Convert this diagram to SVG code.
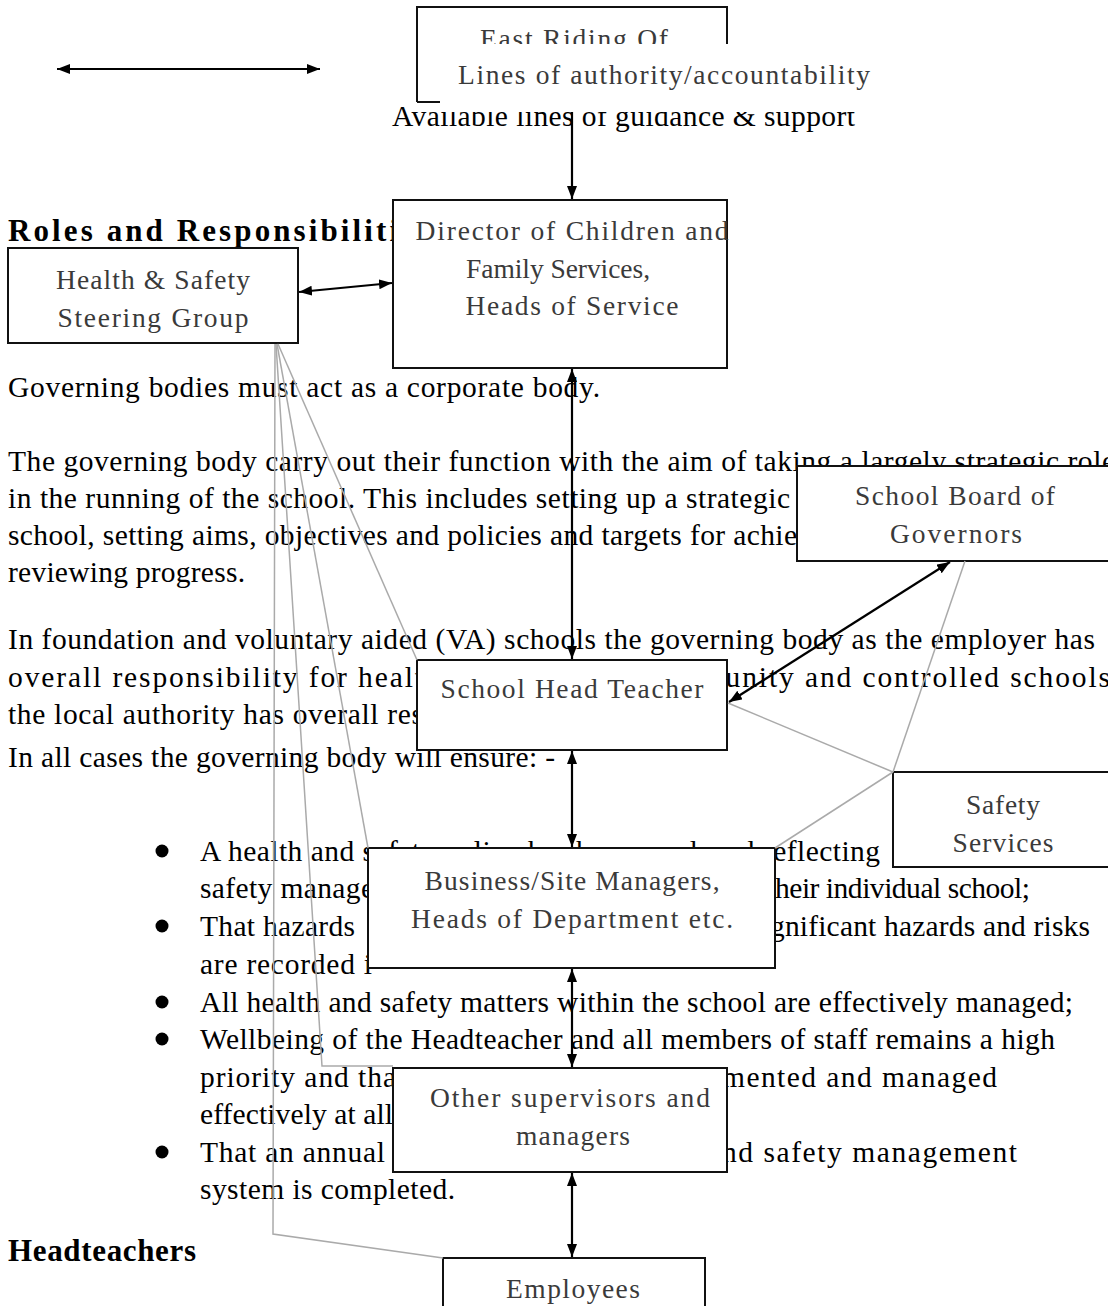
<svg xmlns="http://www.w3.org/2000/svg" width="1108" height="1306" viewBox="0 0 1108 1306">
<defs>
<marker id="ah" markerWidth="14" markerHeight="12" refX="13" refY="5" orient="auto-start-reverse" markerUnits="userSpaceOnUse">
<path d="M0,0 L13,5 L0,10 z" fill="#000"/>
</marker>
<style>
.t{font-family:"Liberation Serif","Times New Roman",serif;font-size:29.5px;fill:#000}
.b{font-family:"Liberation Serif","Times New Roman",serif;font-size:31px;font-weight:bold;fill:#000}
.n{font-family:"Liberation Serif","Times New Roman",serif;font-size:27.5px;fill:#3a3a3a;text-anchor:middle}
.box{fill:#fff;stroke:#111;stroke-width:2}
.ar{stroke:#000;stroke-width:2.2;fill:none;marker-start:url(#ah);marker-end:url(#ah)}
.ar1{stroke:#000;stroke-width:2.2;fill:none;marker-end:url(#ah)}
.g{stroke:#aaa;stroke-width:1.5;fill:none}
</style>
</defs>
<rect width="1108" height="1306" fill="#fff"/>

<g id="body-text">
<text class="t" x="392" y="126" textLength="463">Available lines of guidance &amp; support</text>
<text class="b" x="8" y="241" textLength="390" font-size="33">Roles and Responsibiliti</text>
<text class="t" x="8" y="397" textLength="592">Governing bodies must act as a corporate body.</text>
<text class="t" x="8" y="471" textLength="1107">The governing body carry out their function with the aim of taking a largely strategic role</text>
<text class="t" x="8" y="508" textLength="782">in the running of the school. This includes setting up a strategic</text>
<text class="t" x="8" y="545" textLength="789">school, setting aims, objectives and policies and targets for achie</text>
<text class="t" x="8" y="582" textLength="237">reviewing progress.</text>
<text class="t" x="8" y="649" textLength="1087">In foundation and voluntary aided (VA) schools the governing body as the employer has</text>
<text class="t" x="8" y="687" textLength="1102">overall responsibility for health and safety. In community and controlled schools</text>
<text class="t" x="8" y="724" textLength="415">the local authority has overall res</text>
<text class="t" x="8" y="767" textLength="547">In all cases the governing body will ensure: -</text>
<g fill="#000">
<circle cx="162" cy="851" r="6.5"/>
<circle cx="162" cy="926" r="6.5"/>
<circle cx="162" cy="1002" r="6.5"/>
<circle cx="162" cy="1039" r="6.5"/>
<circle cx="162" cy="1152" r="6.5"/>
</g>
<text class="t" x="200" y="861" textLength="680">A health and safety policy has been produced reflecting</text>
<text class="t" x="200" y="898" textLength="174">safety manage</text>
<text class="t" x="775" y="898" textLength="255">heir individual school;</text>
<text class="t" x="200" y="936" textLength="155">That hazards</text>
<text class="t" x="770" y="936" textLength="320">gnificant hazards and risks</text>
<text class="t" x="200" y="974" textLength="172">are recorded i</text>
<text class="t" x="200" y="1012" textLength="873">All health and safety matters within the school are effectively managed;</text>
<text class="t" x="200" y="1049" textLength="855">Wellbeing of the Headteacher and all members of staff remains a high</text>
<text class="t" x="200" y="1087" textLength="196">priority and tha</text>
<text class="t" x="722" y="1087" textLength="275">mented and managed</text>
<text class="t" x="200" y="1124" textLength="193">effectively at all</text>
<text class="t" x="200" y="1162" textLength="185">That an annual</text>
<text class="t" x="722" y="1162" textLength="295">nd safety management</text>
<text class="t" x="200" y="1199" textLength="255">system is completed.</text>
<text class="b" x="8" y="1261" textLength="188">Headteachers</text>
</g>

<g id="legend">
<line class="ar" x1="57" y1="69" x2="320" y2="69"/>
</g>

<g id="node-east-riding">
<path d="M417,102 L417,7 L727,7 L727,60" fill="none" stroke="#111" stroke-width="2"/>
<line x1="417" y1="102" x2="440" y2="102" stroke="#111" stroke-width="2"/>
<text class="n" x="574" y="48" textLength="188">East Riding Of</text>
<rect x="440" y="44" width="440" height="68" fill="#fff"/>
<text class="n" x="664" y="84" textLength="412">Lines of authority/accountability</text>
</g>

<g id="node-hs-steering">
<rect class="box" x="8" y="248" width="290" height="95"/>
<text class="n" x="153" y="289" textLength="194">Health &amp; Safety</text>
<text class="n" x="153" y="327" textLength="191">Steering Group</text>
</g>

<g id="node-director">
<rect class="box" x="393" y="200" width="334" height="168"/>
<text class="n" x="572" y="240" textLength="313">Director of Children and</text>
<text class="n" x="558" y="278" textLength="184">Family Services,</text>
<text class="n" x="572" y="315" textLength="213">Heads of Service</text>
</g>

<g id="node-board">
<rect class="box" x="797" y="466" width="320" height="95"/>
<text class="n" x="955" y="505" textLength="200">School Board of</text>
<text class="n" x="956" y="543" textLength="132">Governors</text>
</g>

<g id="node-head">
<rect class="box" x="417" y="660" width="310" height="90"/>
<text class="n" x="572" y="698" textLength="263">School Head Teacher</text>
</g>

<g id="node-safety">
<rect class="box" x="893" y="772" width="224" height="95"/>
<text class="n" x="1003" y="814" textLength="74">Safety</text>
<text class="n" x="1003" y="852" textLength="101">Services</text>
</g>

<g id="node-business">
<rect class="box" x="368" y="848" width="407" height="120"/>
<text class="n" x="572" y="890" textLength="295">Business/Site Managers,</text>
<text class="n" x="572" y="928" textLength="322">Heads of Department etc.</text>
</g>

<g id="node-other">
<rect class="box" x="393" y="1068" width="334" height="104"/>
<text class="n" x="570" y="1107" textLength="280">Other supervisors and</text>
<text class="n" x="573" y="1145" textLength="114">managers</text>
</g>

<g id="node-employees">
<rect class="box" x="443" y="1258" width="262" height="60"/>
<text class="n" x="573" y="1298" textLength="134">Employees</text>
</g>

<g id="connectors">
<path class="g" d="M275,344 L273,1234 L443,1258"/>
<path class="g" d="M276,344 L322,1066 L393,1066"/>
<path class="g" d="M277,344 L368,848"/>
<path class="g" d="M278,344 L417,660"/>
<path class="g" d="M893,772 L728,703"/>
<path class="g" d="M893,772 L965,561"/>
<path class="g" d="M893,772 L775,848"/>
<line class="ar1" x1="572" y1="112" x2="572" y2="199"/>
<line class="ar" x1="299" y1="292" x2="392" y2="283"/>
<line class="ar" x1="572" y1="369" x2="572" y2="659"/>
<line class="ar" x1="950" y1="562" x2="729" y2="702"/>
<line class="ar" x1="572" y1="751" x2="572" y2="847"/>
<line class="ar" x1="572" y1="969" x2="572" y2="1067"/>
<line class="ar" x1="572" y1="1173" x2="572" y2="1257"/>
</g>
</svg>
